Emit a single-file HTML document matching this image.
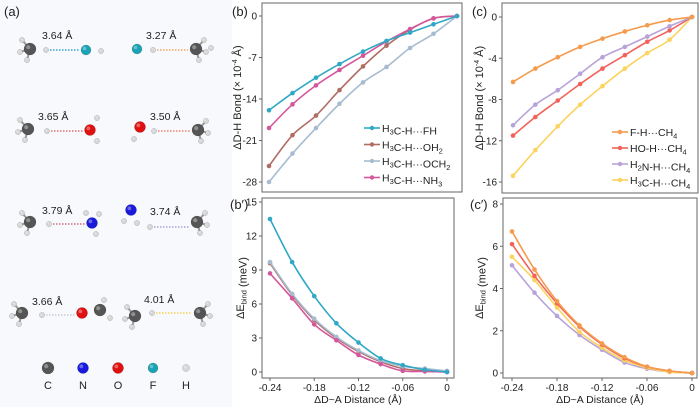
<!DOCTYPE html>
<html><head><meta charset="utf-8"><style>
html,body{margin:0;padding:0;background:#fff;}
svg{display:block;font-family:"Liberation Sans",Arial,sans-serif;}
</style></head><body>
<svg id="fig" width="700" height="407" viewBox="0 0 700 407" xmlns="http://www.w3.org/2000/svg">
<rect x="0" y="0" width="232" height="407" fill="#f8f9fc"/>
<g id="panelA"></g>
<g id="charts"></g>
</svg>
<script>
// ---------- DATA ----------
const xVals = [-0.24,-0.21,-0.18,-0.15,-0.12,-0.09,-0.06,-0.03,0];
const xTicks = [-0.24,-0.18,-0.12,-0.06,0];
const xTickLabels = ["-0.24","-0.18","-0.12","-0.06","0"];

const bNames = ["H3C-H···FH","H3C-H···OH2","H3C-H···OCH2","H3C-H···NH3"];
const bFH   = [-15.9,-13.0,-10.4,-8.1,-6.0,-4.2,-2.8,-1.4,0];
const bOH2  = [-25.3,-20.1,-16.8,-12.5,-8.5,-5.0,-2.3,-0.4,0];
const bOCH2 = [-28.0,-23.2,-18.9,-14.8,-11.2,-8.6,-5.4,-3.0,0];
const bNH3  = [-18.9,-14.9,-11.7,-9.1,-6.7,-4.3,-2.2,-0.4,0];
const bTicks = [0,-7,-14,-21,-28];

const cFH  = [-6.3,-5.0,-3.9,-2.9,-2.1,-1.4,-0.8,-0.3,0];
const cOH  = [-11.5,-9.7,-8.1,-6.5,-5.0,-3.7,-2.4,-1.3,0];
const cNH  = [-10.5,-8.5,-7.1,-5.5,-3.9,-2.9,-1.9,-0.9,0];
const cCH  = [-15.4,-12.9,-10.6,-8.5,-6.7,-5.0,-3.5,-2.2,0];
const cTicks = [0,-4,-8,-12,-16];

const bpFH   = [13.5,9.7,6.7,4.3,2.6,1.2,0.6,0.2,0];
const bpOH2  = [9.6,6.8,4.6,3.0,1.8,0.9,0.3,0.1,0];
const bpOCH2 = [9.7,6.9,4.7,3.1,1.9,1.0,0.5,0.3,0.1];
const bpNH3  = [8.7,6.5,4.2,2.8,1.5,0.7,0.1,0.05,0];
const bpTicks = [0,3,6,9,12,15];

const cpFH = [6.7,4.9,3.4,2.25,1.4,0.75,0.3,0.1,0];
const cpOH = [6.1,4.6,3.3,2.2,1.35,0.7,0.3,0.1,0];
const cpNH = [5.1,3.8,2.7,1.8,1.1,0.5,0.2,0.05,0];
const cpCH = [5.5,4.4,3.1,1.95,1.2,0.6,0.25,0.05,0];
const cpTicks = [0,2,4,6,8];

const NS="http://www.w3.org/2000/svg";
function mk(tag, attrs, parent){const e=document.createElementNS(NS,tag);for(const k in attrs)e.setAttribute(k,attrs[k]);parent.appendChild(e);return e;}
const charts=document.getElementById('charts');

function smoothPath(pts){
  let d="M"+pts[0][0]+","+pts[0][1];
  for(let i=0;i<pts.length-1;i++){
    const p0=pts[Math.max(0,i-1)],p1=pts[i],p2=pts[i+1],p3=pts[Math.min(pts.length-1,i+2)];
    const c1x=p1[0]+(p2[0]-p0[0])/6,c1y=p1[1]+(p2[1]-p0[1])/6;
    const c2x=p2[0]-(p3[0]-p1[0])/6,c2y=p2[1]-(p3[1]-p1[1])/6;
    d+=" C"+c1x+","+c1y+" "+c2x+","+c2y+" "+p2[0]+","+p2[1];
  }
  return d;
}

function panel(cfg){
  const g=mk('g',{},charts);
  
  
  const sx=v=>cfg.x0+(v-(-0.24))/(0.24)*(cfg.x1-cfg.x0);
  const sy=v=>cfg.y0+(v-cfg.v0)/(cfg.v1-cfg.v0)*(cfg.y1-cfg.y0);
  const box=mk('rect',{x:cfg.bx,y:cfg.by,width:cfg.bw,height:cfg.bh,fill:'none',stroke:'#666','stroke-width':1},g);
  
  
  cfg.yt.forEach(t=>{
    const y=sy(t);
    mk('line',{x1:cfg.bx-3,x2:cfg.bx,y1:y,y2:y,stroke:'#666'},g);
    const tx=mk('text',{x:cfg.bx-5,y:y+3.5,'font-size':10,'text-anchor':'end',fill:'#222'},g);
    tx.textContent=String(t);
    
    
  });
  if(cfg.showX){
    xTicks.forEach((t,i)=>{
      const x=sx(t);
      mk('line',{x1:x,x2:x,y1:cfg.by+cfg.bh,y2:cfg.by+cfg.bh+3,stroke:'#666'},g);
      const tx=mk('text',{x:x,y:cfg.by+cfg.bh+13,'font-size':10,'text-anchor':'middle',fill:'#222'},g);
      tx.textContent=xTickLabels[i];
      
      
    });
    const xl=mk('text',{x:cfg.bx+cfg.bw/2,y:cfg.by+cfg.bh+25,'font-size':10.5,'text-anchor':'middle',fill:'#222'},g);
    xl.textContent='ΔD~A Distance (Å)';
    
    
  }
  const yl=mk('text',{x:0,y:0,'font-size':11,'text-anchor':'middle',fill:'#222',transform:`translate(${cfg.ylx},${cfg.by+cfg.bh/2}) rotate(-90)`},g);
  yl.innerHTML=cfg.ytitle;
  
  
  const pl=mk('text',{x:cfg.plx,y:cfg.ply,'font-size':13,fill:'#222'},g);
  pl.textContent=cfg.plabel;
  
  
  cfg.series.forEach(s=>{
    const pts=s.data.map((v,i)=>[sx(xVals[i]),sy(v)]);
    const p=mk('path',{d:smoothPath(pts),fill:'none',stroke:s.color,'stroke-width':1.6},g);
    
    
    pts.forEach(pt=>{
      const c=mk('circle',{cx:pt[0],cy:pt[1],r:2.3,fill:s.color},g);
      
      
    });
  });
  if(cfg.legend){
    cfg.legend.items.forEach((it,i)=>{
      const y=cfg.legend.y+i*cfg.legend.dy;
      const lg=mk('g',{},g);
      
      
      mk('line',{x1:cfg.legend.x,x2:cfg.legend.x+16,y1:y,y2:y,stroke:it.color,'stroke-width':1.6},lg);
      mk('circle',{cx:cfg.legend.x+8,cy:y,r:2.2,fill:it.color},lg);
      const t=mk('text',{x:cfg.legend.x+18,y:y+4,'font-size':10.5,fill:'#222'},lg);
      t.innerHTML=it.label;
    });
  }
}
const sub=s=>`<tspan font-size="7.5" dy="2.5">${s}</tspan><tspan dy="-2.5"></tspan>`;
const C1='#2fa8c6',C2='#b06d64',C3='#a7bcd1',C4='#d4579c';
const D1='#f59b4d',D2='#f2625b',D3='#b8a3d9',D4='#fcd35e';

panel({name:'panel-b',bx:262,by:3,bw:200,bh:189,x0:269,x1:457,v0:0,v1:-28,y0:16,y1:182,yt:bTicks,ylx:241,
 ytitle:'ΔD-H Bond (× 10<tspan font-size="7" dy="-4">-4</tspan><tspan dy="4"> Å)</tspan>',plabel:'(b)',plx:232,ply:16,showX:false,
 series:[{data:bOCH2,color:C3},{data:bOH2,color:C2},{data:bNH3,color:C4},{data:bFH,color:C1}],
 legend:{x:364,y:128,dy:16.5,items:[{color:C1,label:'H'+sub('3')+'C-H···FH'},{color:C2,label:'H'+sub('3')+'C-H···OH'+sub('2')},{color:C3,label:'H'+sub('3')+'C-H···OCH'+sub('2')},{color:C4,label:'H'+sub('3')+'C-H···NH'+sub('3')}]}});

panel({name:'panel-c',bx:502,by:3,bw:196,bh:190,x0:513,x1:692,v0:0,v1:-16,y0:17,y1:182,yt:cTicks,ylx:483,
 ytitle:'ΔD-H Bond (× 10<tspan font-size="7" dy="-4">-4</tspan><tspan dy="4"> Å)</tspan>',plabel:'(c)',plx:472,ply:16,showX:false,
 series:[{data:cCH,color:D4},{data:cOH,color:D2},{data:cNH,color:D3},{data:cFH,color:D1}],
 legend:{x:612,y:132,dy:16,items:[{color:D1,label:'F-H···CH'+sub('4')},{color:D2,label:'HO-H···CH'+sub('4')},{color:D3,label:'H'+sub('2')+'N-H···CH'+sub('4')},{color:D4,label:'H'+sub('3')+'C-H···CH'+sub('4')}]}});

panel({name:'panel-b-prime',bx:262,by:198,bw:192,bh:180,x0:270,x1:447,v0:15,v1:0,y0:202,y1:372,yt:bpTicks,ylx:244,
 ytitle:'ΔE'+sub('bind')+' (meV)',plabel:'(b′)',plx:230,ply:209,showX:true,
 series:[{data:bpOH2,color:C2},{data:bpOCH2,color:C3},{data:bpNH3,color:C4},{data:bpFH,color:C1}]});

panel({name:'panel-c-prime',bx:503,by:198,bw:194,bh:180,x0:512,x1:692,v0:8,v1:0,y0:204,y1:373,yt:cpTicks,ylx:483,
 ytitle:'ΔE'+sub('bind')+' (meV)',plabel:'(c′)',plx:470,ply:209,showX:true,
 series:[{data:cpNH,color:D3},{data:cpCH,color:D4},{data:cpOH,color:D2},{data:cpFH,color:D1}]});

// ---------- PANEL A ----------
const A=document.getElementById('panelA');
function atom(x,y,r,col){
  const gr=mk('circle',{cx:x,cy:y,r:r,fill:col,stroke:'rgba(0,0,0,0.25)','stroke-width':0.5},A);
  
  
  mk('circle',{cx:x-r*0.3,cy:y-r*0.3,r:r*0.35,fill:'rgba(255,255,255,0.35)'},A);
}
const CC='#555',HC='#d8d8d8',OC='#e01010',NC='#1a1adb',FC='#1aa3b4';
function ch4(x,y,flip){
  const s=flip?-1:1;
  [[x-8*s,y-9],[x-10*s,y+3],[x-3*s,y+11]].forEach(p=>{mk('line',{x1:x,y1:y,x2:p[0],y2:p[1],stroke:'#999','stroke-width':2},A);atom(p[0],p[1],2.6,HC);});
  atom(x,y,6,CC);
}
function dots(x1,x2,y,col){mk('line',{x1:x1,x2:x2,y1:y,y2:y,stroke:col,'stroke-width':1.5,'stroke-dasharray':'1.5 1.5'},A);}
function lbl(x,y,t){const e=mk('text',{x:x,y:y,'font-size':10.5,fill:'#222'},A);e.textContent=t;}
const pa=mk('text',{x:4,y:16,'font-size':13,fill:'#222'},A);pa.textContent='(a)';


// row1
ch4(30,49,false);atom(46,50,2.6,HC);dots(50,80,50,'#2fa8c6');atom(86,50,5,FC);atom(101,51,2.6,HC);lbl(42,39,'3.64 Å');
atom(137,49,5,FC);atom(153,50,2.6,HC);dots(157,188,50,'#f5a561');ch4(196,49,true);atom(211,48,2.6,HC);lbl(146,39,'3.27 Å');
// row2
ch4(28,129,false);atom(47,131,2.6,HC);dots(51,84,131,'#e07070');atom(90,130,5.5,OC);atom(97,118,2.6,HC);atom(97,141,2.6,HC);lbl(38,120,'3.65 Å');
atom(140,127,5.5,OC);atom(134,139,2.6,HC);atom(154,131,2.6,HC);dots(158,190,131,'#f08070');ch4(198,130,true);lbl(150,120,'3.50 Å');
// row3
ch4(30,222,false);atom(49,224,2.6,HC);dots(53,86,224,'#d07080');atom(92,223,5.5,NC);atom(99,214,2.6,HC);atom(96,234,2.6,HC);atom(86,213,2.6,HC);lbl(42,214,'3.79 Å');
atom(131,210,5.5,NC);atom(124,221,2.6,HC);atom(137,223,2.6,HC);atom(150,227,2.6,HC);dots(154,190,227,'#b0a0d8');ch4(197,222,true);lbl(150,215,'3.74 Å');
// row4
ch4(22,313,false);atom(42,315,2.6,HC);dots(46,75,315,'#c8ccd8');atom(82,313,5.5,OC);atom(100,310,6,CC);atom(110,318,2.6,HC);atom(104,300,2.6,HC);lbl(32,305,'3.66 Å');
ch4(135,316,false);atom(152,313,2.6,HC);dots(156,192,313,'#f5d050');ch4(200,313,true);lbl(144,303,'4.01 Å');
// element legend
[[48,CC,'C',6],[83,NC,'N',5.5],[118,OC,'O',5.5],[153,FC,'F',5],[186,HC,'H',3.5]].forEach(e=>{
  atom(e[0],368,e[3],e[1]);
  const t=mk('text',{x:e[0],y:389,'font-size':11,'text-anchor':'middle',fill:'#222'},A);t.textContent=e[2];
  
  
});
</script>
</body></html>
